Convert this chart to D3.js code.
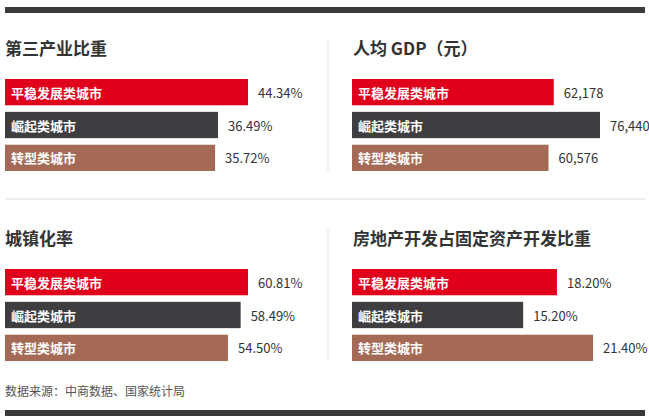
<!DOCTYPE html><html><head><meta charset="utf-8">
<script src="https://cdn.jsdelivr.net/npm/d3@7"></script>
<style>body{margin:0;background:#fff}text{font-family:"Noto Sans CJK SC",sans-serif}</style></head><body>
<svg id="c" width="649" height="418"></svg>
<script>
const categories=["平稳发展类城市","崛起类城市","转型类城市"];
const titles=["第三产业比重","人均 GDP（元）","城镇化率","房地产开发占固定资产开发比重"];
const tertiaryShare=[44.34,36.49,35.72];
const gdpPerCapita=[62178,76440,60576];
const urbanization=[60.81,58.49,54.50];
const realEstateShare=[18.20,15.20,21.40];
const labels=[["44.34%","36.49%","35.72%"],["62,178","76,440","60,576"],["60.81%","58.49%","54.50%"],["18.20%","15.20%","21.40%"]];
const source="数据来源：中商数据、国家统计局";
const colors=["#e0001b","#3e3d3f","#a56a55"];
const svg=d3.select("#c");
svg.append("rect").attr("x",5).attr("y",7).attr("width",640).attr("height",6).attr("fill","#3a3a3a");
svg.append("rect").attr("x",5).attr("y",410).attr("width",640).attr("height",6).attr("fill","#3a3a3a");
svg.append("line").attr("x1",5).attr("x2",645).attr("y1",199).attr("y2",199).attr("stroke","#ddd");
[[40,170],[230,360]].forEach(([a,b])=>svg.append("line").attr("x1",328).attr("x2",328).attr("y1",a).attr("y2",b).attr("stroke","#ddd"));
const panels=[
 {v:tertiaryShare,x:5,y:47,d0:-19.3,w:243},
 {v:gdpPerCapita,x:352,y:47,d0:0,w:248},
 {v:urbanization,x:5,y:237,d0:-15.8,w:243},
 {v:realEstateShare,x:352,y:237,d0:0,w:241}];
panels.forEach((p,i)=>{
 const g=svg.append("g").attr("transform",`translate(${p.x},0)`);
 g.append("text").attr("x",i%2?1:0).attr("y",p.y).attr("dominant-baseline","central").attr("font-size",17).attr("font-weight","bold").attr("fill","#333").text(titles[i]);
 const x=d3.scaleLinear().domain([p.d0,d3.max(p.v)]).range([0,p.w]);
 const y=d3.scaleBand().domain(categories).range([p.y+32,p.y+124]).paddingInner(0.2);
 categories.forEach((c,j)=>{
  const w=x(p.v[j]);
  g.append("rect").attr("x",0).attr("y",y(c)).attr("width",w).attr("height",y.bandwidth()).attr("fill",colors[j]);
  g.append("text").attr("x",6).attr("y",y(c)+y.bandwidth()/2).attr("dominant-baseline","central").attr("font-size",13).attr("font-weight","bold").attr("fill","#fff").text(c);
  g.append("text").attr("x",w+10).attr("y",y(c)+y.bandwidth()/2).attr("dominant-baseline","central").attr("font-size",13).attr("font-family","Liberation Sans Narrow, Liberation Sans").attr("fill","#333").text(labels[i][j]);
 });
});
svg.append("text").attr("x",5).attr("y",390).attr("dominant-baseline","central").attr("font-size",12).attr("fill","#555").text(source);
</script></body></html>
